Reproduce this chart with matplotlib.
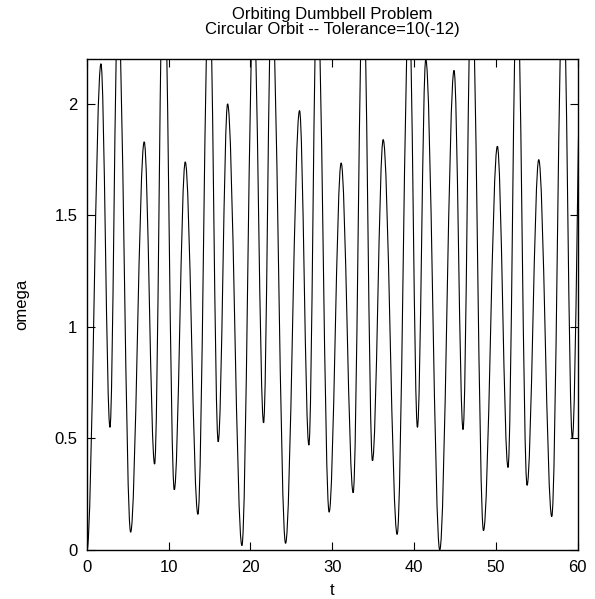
import numpy as np
import matplotlib.pyplot as plt
from matplotlib.path import Path
from matplotlib.patches import PathPatch

plt.rcParams['font.family'] = ['Liberation Sans', 'DejaVu Sans']

# turning points of omega(t)
t_ext = [0, 1.71, 2.81, 3.79, 5.34, 7.0, 8.27, 9.37, 10.68, 12.02, 13.57,
         14.95, 16.05, 17.2, 18.95, 20.38, 21.6, 22.58, 24.29, 26.0, 27.14,
         28.15, 29.62, 31.09, 32.56, 33.78, 34.92, 36.23, 37.94, 39.4, 40.42,
         41.44, 43.15, 44.9, 46.0, 47.03, 48.5, 50.2, 51.5, 52.6, 53.83,
         55.26, 56.85, 58.23, 59.37, 60.55]
omega_ext = [0, 2.18, 0.55, 2.45, 0.08, 1.83, 0.385, 2.75, 0.27, 1.74, 0.16,
             2.6, 0.485, 2.0, 0.02, 2.45, 0.57, 2.5, 0.03, 1.97, 0.47,
             2.55, 0.17, 1.735, 0.257, 2.6, 0.40, 1.84, 0.07, 2.45, 0.55,
             2.2, 0.0, 2.15, 0.54, 2.6, 0.087, 1.81, 0.37, 2.6, 0.29,
             1.75, 0.15, 2.6, 0.5, 2.4]

x_ticks = [0, 10, 20, 30, 40, 50, 60]
y_ticks = [0, 0.5, 1, 1.5, 2]
y_labels = ['0', '0.5', '1', '1.5', '2']


def swing_path(ts, ys, k=0.36):
    # smooth cubic between neighbouring extrema, flat at each turning point
    verts = [(ts[0], ys[0])]
    codes = [Path.MOVETO]
    for i in range(len(ts) - 1):
        dt = ts[i + 1] - ts[i]
        verts += [(ts[i] + k * dt, ys[i]), (ts[i + 1] - k * dt, ys[i + 1]),
                  (ts[i + 1], ys[i + 1])]
        codes += [Path.CURVE4] * 3
    return Path(verts, codes)


fig = plt.figure(figsize=(5.95, 5.99), dpi=100)
ax = fig.add_axes([0.1462, 0.0818, 0.8244, 0.8192])

ax.add_patch(PathPatch(swing_path(t_ext, omega_ext), facecolor='none',
                       edgecolor='black', lw=0.8))

ax.set_xlim(0, 60)
ax.set_ylim(0, 2.2)
ax.set_xticks(x_ticks)
ax.set_yticks(y_ticks)
ax.set_yticklabels(y_labels)
ax.tick_params(direction='in', length=5.5, width=0.8, top=True, right=True,
               labelsize=12, pad=7)
for s in ax.spines.values():
    s.set_linewidth(1.0)

ax.set_xlabel('t', fontsize=12, labelpad=6)
ax.set_ylabel('omega', fontsize=12, labelpad=18)
ax.set_title('Orbiting Dumbbell Problem\nCircular Orbit -- Tolerance=10(-12)',
             fontsize=12, pad=18, linespacing=1.05)

fig.savefig('out.png', dpi=100)
